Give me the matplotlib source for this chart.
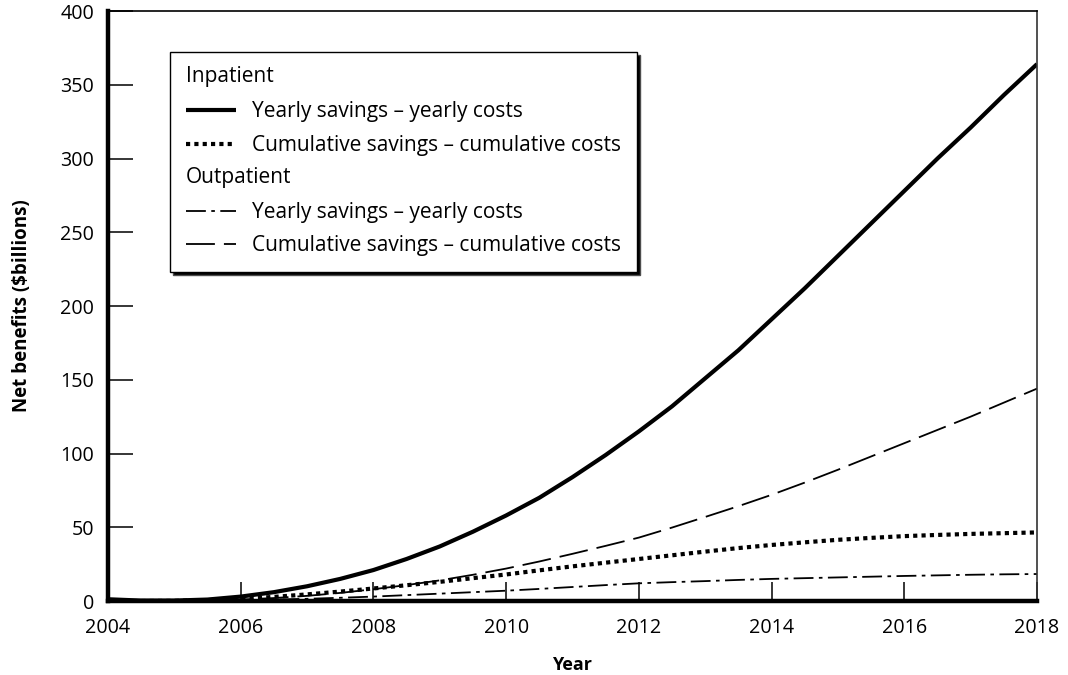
import matplotlib.pyplot as plt
from matplotlib.lines import Line2D
from matplotlib.text import Text
from matplotlib.legend_handler import HandlerBase

plt.rcParams['font.family'] = ['Open Sans', 'DejaVu Sans']

# values, every half year
years = [2004, 2004.5, 2005, 2005.5, 2006, 2006.5, 2007, 2007.5, 2008, 2008.5,
         2009, 2009.5, 2010, 2010.5, 2011, 2011.5, 2012, 2012.5, 2013, 2013.5,
         2014, 2014.5, 2015, 2015.5, 2016, 2016.5, 2017, 2017.5, 2018]

inpat_yearly = [1.2, 0.3, 0.3, 1.0, 3.0, 6.0, 10, 15, 21, 28.5,
                37, 47, 58, 70, 84, 99, 115, 132, 151, 170,
                191, 212, 234, 256, 278, 300, 321, 343, 364]
inpat_cumul = [0, 0, 0.1, 0.6, 1.5, 2.8, 4.5, 6.4, 8.5, 10.7,
               13, 15.5, 18, 20.8, 23.5, 26, 28.5, 31, 33.5, 35.9,
               38, 39.8, 41.5, 42.8, 44, 44.8, 45.5, 46, 46.5]
outpat_yearly = [0, 0, 0, 0.2, 0.5, 1.0, 1.5, 2.2, 3, 4,
                 5, 6, 7, 8.2, 9.5, 10.8, 12, 12.8, 13.5, 14.3,
                 15, 15.5, 16, 16.5, 17, 17.4, 17.8, 18.1, 18.3]
outpat_cumul = [0, 0, 0, 0.3, 1, 2, 3.5, 5.5, 8, 10.8,
                14, 17.8, 22, 26.8, 32, 37.4, 43, 49.8, 57, 64.3,
                72, 80.3, 89, 98, 107, 116, 125, 134.5, 144]

labels = ["Yearly savings \u2013 yearly costs",
          "Cumulative savings \u2013 cumulative costs"]


class HeadingHandler(HandlerBase):
    # draws the group heading where the line sample would be
    def __init__(self, text):
        super().__init__()
        self.text = text

    def create_artists(self, legend, orig_handle, xdescent, ydescent,
                       width, height, fontsize, trans):
        t = Text(-xdescent, -ydescent + height / 2, self.text,
                 fontsize=fontsize, va='center', ha='left',
                 transform=trans)
        return [t]


fig = plt.figure(figsize=(10.68, 6.75), dpi=100)
ax = fig.add_axes([0.1011, 0.1096, 0.8699, 0.8741])

l1, = ax.plot(years, inpat_yearly, color='black', lw=3.0,
              solid_capstyle='butt')
l2, = ax.plot(years, inpat_cumul, color='black', lw=3.0,
              linestyle=(0, (1.0, 1.0)), dash_capstyle='butt')
l3, = ax.plot(years, outpat_yearly, color='black', lw=1.3,
              linestyle=(0, (11, 3, 2, 3)))
l4, = ax.plot(years, outpat_cumul, color='black', lw=1.3,
              linestyle=(0, (16, 5)))

ax.set_xlim(2004, 2018)
ax.set_ylim(0, 400)
ax.set_xticks(range(2004, 2019, 2))
ax.set_yticks(range(0, 401, 50))
ax.tick_params(axis='y', direction='in', length=18, width=1.1,
               labelsize=14.2, pad=10)
ax.tick_params(axis='x', direction='in', length=14, width=1.1,
               labelsize=14.2, pad=12.5)

ax.spines['left'].set_linewidth(3.2)
ax.spines['bottom'].set_linewidth(3.2)
ax.spines['top'].set_linewidth(1.2)
ax.spines['right'].set_linewidth(1.2)
ax.spines['right'].set_color('#333333')

ax.set_xlabel("Year", fontsize=13, fontweight='bold', labelpad=13)
ax.set_ylabel("Net benefits (\\$billions)", fontsize=13.5,
              fontweight='bold', labelpad=20)

h_in = Line2D([], [], color='none')
h_out = Line2D([], [], color='none')
leg = ax.legend([h_in, l1, l2, h_out, l3, l4],
                ["", labels[0], labels[1], "", labels[0], labels[1]],
                handler_map={h_in: HeadingHandler("Inpatient"),
                             h_out: HeadingHandler("Outpatient")},
                loc='upper left', bbox_to_anchor=(0.0667, 0.930),
                borderaxespad=0, fontsize=15, handlelength=2.4,
                handletextpad=0.8, labelspacing=0.6, borderpad=0.75,
                fancybox=False, edgecolor='black', framealpha=1,
                shadow={'facecolor': 'black', 'alpha': 1})
leg.get_frame().set_linewidth(1.0)

fig.savefig("out.png", dpi=100)
